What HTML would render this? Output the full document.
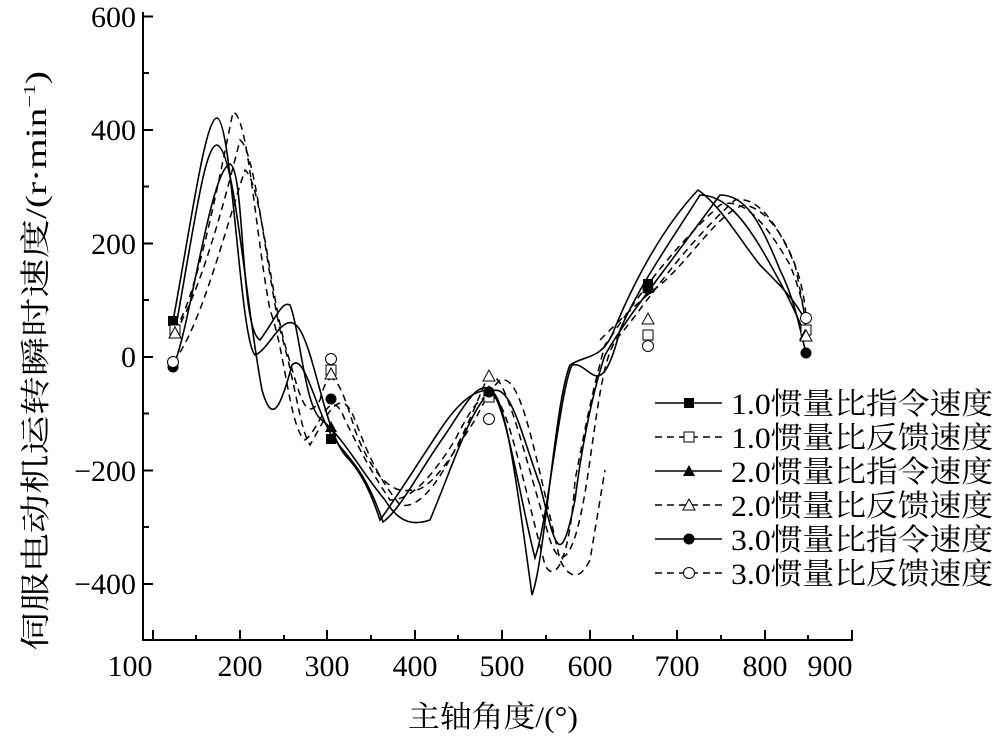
<!DOCTYPE html>
<html><head><meta charset="utf-8"><style>
body{margin:0;background:#fff}
svg text{font-family:"Liberation Serif","Noto Serif CJK SC",serif;fill:#000}
</style></head><body>
<svg width="1000" height="736" viewBox="0 0 1000 736" xmlns="http://www.w3.org/2000/svg">
<g stroke="#000" stroke-width="2" fill="none">
<line x1="143" y1="12" x2="143" y2="641"/>
<line x1="142" y1="640" x2="853" y2="640"/>
</g>
<g stroke="#000" stroke-width="2">
<line x1="143" y1="16.5" x2="153" y2="16.5"/>
<line x1="143" y1="130" x2="153" y2="130"/>
<line x1="143" y1="243.5" x2="153" y2="243.5"/>
<line x1="143" y1="357" x2="153" y2="357"/>
<line x1="143" y1="470.5" x2="153" y2="470.5"/>
<line x1="143" y1="584" x2="153" y2="584"/>
<line x1="143" y1="73" x2="149" y2="73"/>
<line x1="143" y1="186.5" x2="149" y2="186.5"/>
<line x1="143" y1="300" x2="149" y2="300"/>
<line x1="143" y1="413.5" x2="149" y2="413.5"/>
<line x1="143" y1="527" x2="149" y2="527"/>
<line x1="153" y1="640" x2="153" y2="630"/><line x1="240" y1="640" x2="240" y2="630"/>
<line x1="327" y1="640" x2="327" y2="630"/><line x1="415" y1="640" x2="415" y2="630"/>
<line x1="502" y1="640" x2="502" y2="630"/><line x1="590" y1="640" x2="590" y2="630"/>
<line x1="677" y1="640" x2="677" y2="630"/><line x1="765" y1="640" x2="765" y2="630"/>
<line x1="852" y1="640" x2="852" y2="630"/>
<line x1="196" y1="640" x2="196" y2="635"/><line x1="284" y1="640" x2="284" y2="635"/>
<line x1="371" y1="640" x2="371" y2="635"/><line x1="458" y1="640" x2="458" y2="635"/>
<line x1="546" y1="640" x2="546" y2="635"/><line x1="633" y1="640" x2="633" y2="635"/>
<line x1="721" y1="640" x2="721" y2="635"/><line x1="808" y1="640" x2="808" y2="635"/>
</g>
<g font-size="30" text-anchor="end">
<text x="136" y="27">600</text><text x="136" y="140">400</text><text x="136" y="254">200</text>
<text x="136" y="367">0</text><text x="136" y="481">−200</text><text x="136" y="594">−400</text>
</g>
<g font-size="30" text-anchor="middle">
<text x="130" y="676">100</text><text x="240" y="676">200</text><text x="327" y="676">300</text>
<text x="415" y="676">400</text><text x="502" y="676">500</text><text x="590" y="676">600</text>
<text x="677" y="676">700</text><text x="765" y="676">800</text><text x="830" y="676">900</text>
</g>
<text font-size="30" x="408" y="727" textLength="170" lengthAdjust="spacingAndGlyphs">主轴角度/(°)</text>
<text font-size="30" x="-651" y="46" transform="rotate(-90)" textLength="580" lengthAdjust="spacingAndGlyphs">伺服电动机运转瞬时速度/(r·min<tspan font-size="17" dy="-11">−1</tspan><tspan dy="11">)</tspan></text>
<g fill="none" stroke="#000" stroke-width="1.6">
<path d="M173,321 C190,230 205,118 217,118 C232,120 240,340 255,355 C270,350 285,305 300,330 C315,355 325,430 345,455 C360,470 370,490 380,520 C395,500 420,460 440,430 C460,400 475,390 490,390 C505,395 515,470 532,595 C545,560 555,400 570,365 C585,355 600,360 612,335 C630,290 660,230 698,190 C720,205 740,240 760,265 C780,285 795,300 805,320"/>
<path d="M175,332 C195,220 205,145 217,145 C235,150 245,300 262,390 C272,425 280,410 292,365 C305,350 318,420 335,440 C350,460 365,470 383,522 C400,510 420,470 445,435 C465,405 475,385 488,388 C505,395 520,500 535,558 C548,520 560,390 572,365 C590,360 600,410 620,330 C640,285 665,250 700,195 C725,195 745,220 765,255 C785,290 795,310 805,335"/>
<path d="M173,367 C190,330 210,170 230,164 C245,170 240,330 260,340 C275,320 282,300 290,305 C300,330 305,410 322,420 C345,440 360,470 385,500 C400,525 415,525 430,520 C455,460 470,410 490,392 C510,380 520,430 540,485 C555,545 560,575 575,500 C580,460 590,400 605,355 C625,320 650,290 720,195 C745,195 760,220 780,270 C795,300 800,330 806,353"/>
</g>
<g fill="none" stroke="#000" stroke-width="1.5" stroke-dasharray="7,5">
<path d="M175,330 C195,300 215,200 233,112 C248,115 255,230 270,310 C285,350 290,430 305,440 C320,430 330,380 345,420 C360,450 370,470 390,500 C410,500 430,480 455,440 C470,410 480,395 490,397 C505,390 520,470 545,565 C555,585 570,560 575,480 C585,430 590,400 605,345 C630,310 660,260 720,205 C745,195 770,230 790,265 C800,290 805,310 806,330"/>
<path d="M175,333 C195,300 215,240 240,140 C255,150 265,260 280,330 C295,380 300,430 310,445 C325,420 340,380 355,420 C370,460 380,480 400,505 C420,510 440,480 460,440 C475,410 485,380 489,376 C505,370 520,440 550,540 C560,570 575,570 590,460 C600,390 605,350 620,335 C645,305 680,250 735,200 C760,195 780,230 795,265 C800,290 805,310 806,336"/>
<path d="M173,362 C200,330 225,230 245,170 C260,180 270,290 285,345 C300,395 305,425 320,400 C330,360 340,380 355,430 C370,470 390,495 410,490 C430,495 455,450 475,420 C485,400 490,390 500,380 C520,375 530,430 560,560 C570,580 580,580 590,560 C600,500 605,470 605,470"/>
<path d="M600,340 C620,320 640,300 660,285 C690,260 720,210 745,205 C770,210 790,245 800,280 C805,300 806,315 806,318"/>
</g>
<g>
<rect x="168" y="316" width="10" height="10" fill="#000"/><rect x="326" y="434" width="10" height="10" fill="#000"/>
<rect x="484" y="390" width="10" height="10" fill="#000"/><rect x="643" y="279" width="10" height="10" fill="#000"/>
<rect x="170" y="325" width="10" height="10" fill="#fff" stroke="#000"/><rect x="326" y="365" width="10" height="10" fill="#fff" stroke="#000"/>
<rect x="484" y="392" width="10" height="10" fill="#fff" stroke="#000"/><rect x="643" y="330" width="10" height="10" fill="#fff" stroke="#000"/><rect x="801" y="325" width="10" height="10" fill="#fff" stroke="#000"/>
<path d="M175,326 l6,11 h-12z M331,421 l6,11 h-12z M489,385 l6,11 h-12z M648,282 l6,11 h-12z M805,329 l6,11 h-12z" fill="#000"/>
<path d="M175,327 l6,11 h-12z M331,368 l6,11 h-12z M489,370 l6,11 h-12z M648,313 l6,11 h-12z M806,330 l6,11 h-12z" fill="#fff" stroke="#000"/>
<g fill="#000"><circle cx="173" cy="367" r="5.5"/><circle cx="331" cy="399" r="5.5"/><circle cx="489" cy="392" r="5.5"/><circle cx="648" cy="289" r="5.5"/><circle cx="806" cy="353" r="5.5"/></g>
<g fill="#fff" stroke="#000"><circle cx="173" cy="362" r="5.5"/><circle cx="331" cy="359" r="5.5"/><circle cx="489" cy="419" r="5.5"/><circle cx="648" cy="346" r="5.5"/><circle cx="806" cy="318" r="5.5"/></g>
</g>
<g stroke="#000" stroke-width="1.5">
<line x1="655" y1="403" x2="722" y2="403"/>
<line x1="655" y1="437" x2="722" y2="437" stroke-dasharray="7,5"/>
<line x1="655" y1="471" x2="722" y2="471"/>
<line x1="655" y1="505" x2="722" y2="505" stroke-dasharray="7,5"/>
<line x1="655" y1="539" x2="722" y2="539"/>
<line x1="655" y1="573" x2="722" y2="573" stroke-dasharray="7,5"/>
</g>
<rect x="684" y="398" width="10" height="10"/>
<rect x="684" y="432" width="10" height="10" fill="#fff" stroke="#000"/>
<path d="M689,465 l6,11 h-12z"/>
<path d="M689,499 l6,11 h-12z" fill="#fff" stroke="#000"/>
<circle cx="689" cy="539" r="5.5"/>
<circle cx="689" cy="573" r="5.5" fill="#fff" stroke="#000"/>
<g font-size="30">
<text x="731" y="414" textLength="262" lengthAdjust="spacingAndGlyphs">1.0惯量比指令速度</text>
<text x="731" y="448" textLength="262" lengthAdjust="spacingAndGlyphs">1.0惯量比反馈速度</text>
<text x="731" y="482" textLength="262" lengthAdjust="spacingAndGlyphs">2.0惯量比指令速度</text>
<text x="731" y="516" textLength="262" lengthAdjust="spacingAndGlyphs">2.0惯量比反馈速度</text>
<text x="731" y="550" textLength="262" lengthAdjust="spacingAndGlyphs">3.0惯量比指令速度</text>
<text x="731" y="584" textLength="262" lengthAdjust="spacingAndGlyphs">3.0惯量比反馈速度</text>
</g>
</svg>
</body></html>
